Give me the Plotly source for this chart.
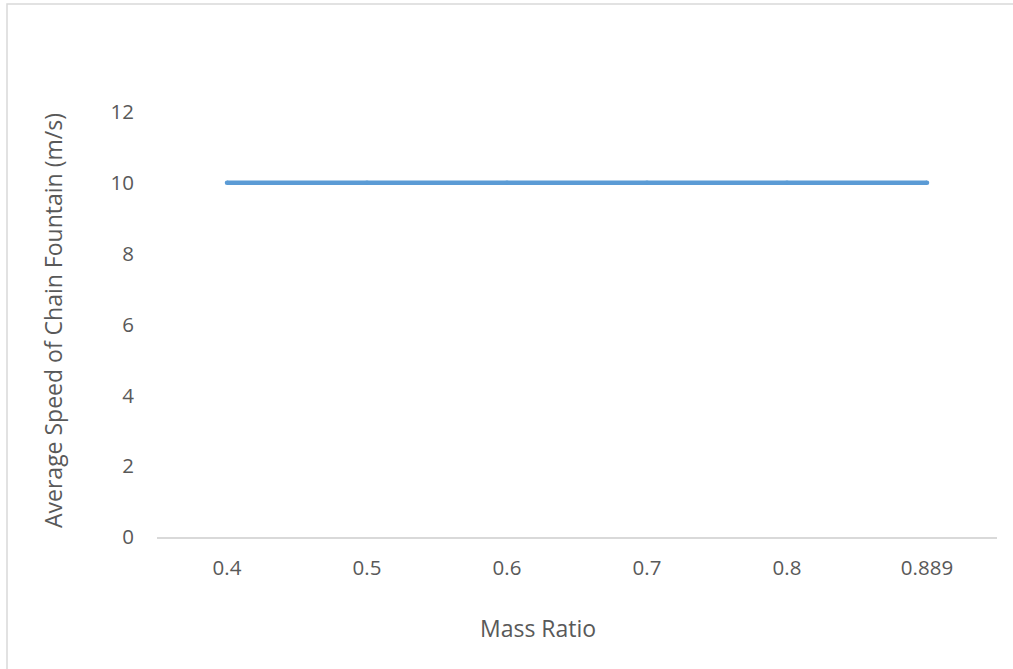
import plotly.graph_objects as go

# Mass ratio categories and the measured average fountain speed
mass_ratio = ["0.4", "0.5", "0.6", "0.7", "0.8", "0.889"]
avg_speed = [10, 10, 10, 10, 10, 10]
y_ticks = [0, 2, 4, 6, 8, 10, 12]

W, H = 1013, 669
L, R, T, B = 157, 16, 112, 132
plot_w = W - L - R
plot_h = H - T - B

def px_x(px):
    return (px - L) / plot_w

def px_y(py):
    return (H - B - py) / plot_h

font_family = "Open Sans, Noto Sans, sans-serif"
text_color = "#595959"
tick_size = 20.5
title_size = 23

fig = go.Figure()
fig.add_trace(go.Scatter(
    x=mass_ratio,
    y=avg_speed,
    mode="lines+markers",
    line=dict(color="#5B9BD5", width=4.5),
    marker=dict(color="#5B9BD5", size=4.5, line=dict(width=0)),
    showlegend=False,
    hoverinfo="skip",
))

fig.update_layout(
    width=W,
    height=H,
    margin=dict(l=L, r=R, t=T, b=B, pad=0),
    paper_bgcolor="white",
    plot_bgcolor="white",
    font=dict(family=font_family, color=text_color, size=tick_size),
    xaxis=dict(
        type="category",
        range=[-0.5, len(mass_ratio) - 0.5],
        showgrid=False,
        zeroline=False,
        showline=True,
        linecolor="#D9D9D9",
        linewidth=1.5,
        ticks="",
        ticklabelstandoff=12,
        tickfont=dict(size=tick_size, color=text_color),
    ),
    yaxis=dict(
        range=[0, 12],
        tickvals=y_ticks,
        showgrid=False,
        zeroline=False,
        showline=False,
        ticks="",
        ticklabelstandoff=22,
        tickfont=dict(size=tick_size, color=text_color),
    ),
    shapes=[
        dict(
            type="rect", xref="paper", yref="paper",
            x0=px_x(7), x1=px_x(1030),
            y0=px_y(700), y1=px_y(4),
            line=dict(color="#D9D9D9", width=1.5),
            fillcolor="rgba(0,0,0,0)",
            layer="below",
        )
    ],
    annotations=[
        dict(
            text="Mass Ratio", xref="paper", yref="paper",
            x=px_x(538), y=px_y(628),
            xanchor="center", yanchor="middle",
            showarrow=False,
            font=dict(size=title_size, color=text_color, family=font_family),
        ),
        dict(
            text="Average Speed of Chain Fountain (m/s)", xref="paper", yref="paper",
            x=px_x(53), y=px_y(321),
            xanchor="center", yanchor="middle",
            textangle=-90,
            showarrow=False,
            font=dict(size=title_size, color=text_color, family=font_family),
        ),
    ],
)

fig.write_html("out.html")
